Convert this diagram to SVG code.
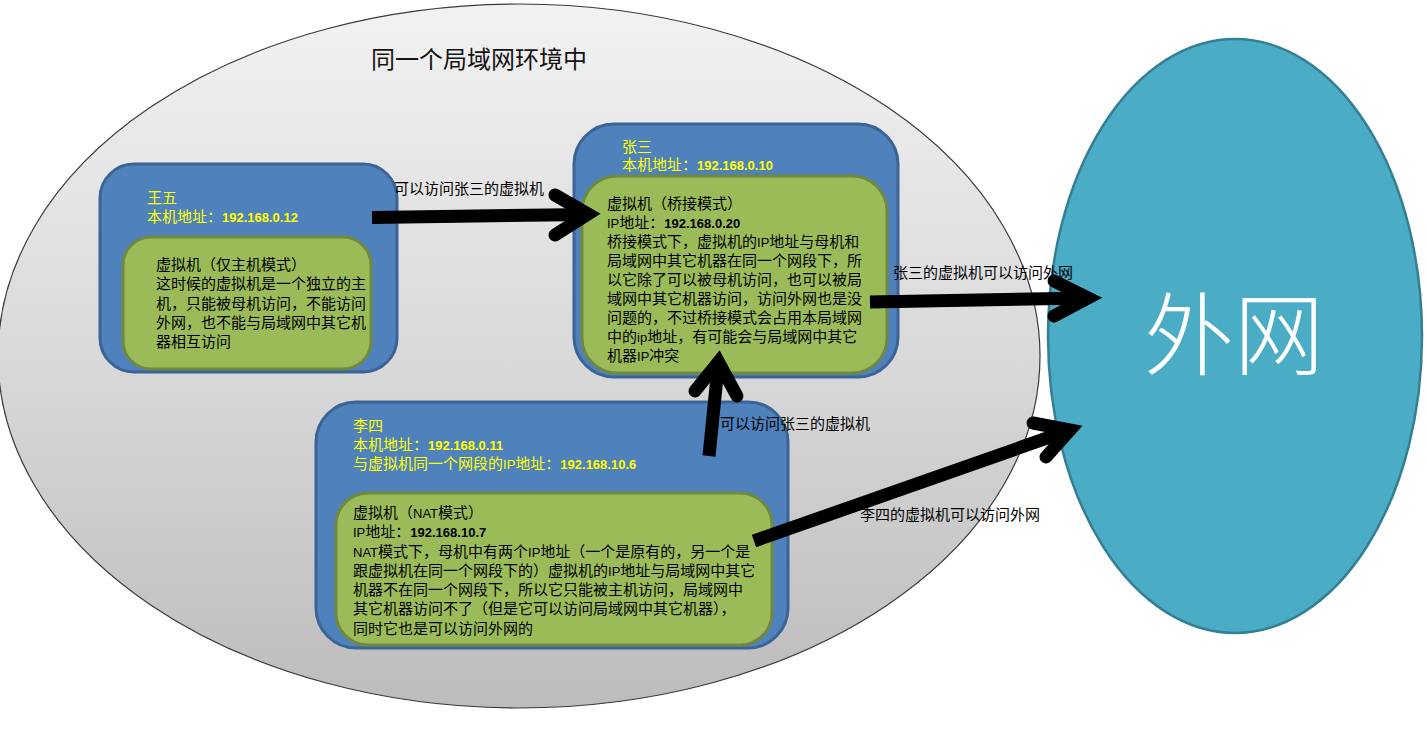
<svg xmlns="http://www.w3.org/2000/svg" width="1427" height="731" viewBox="0 0 1427 731">
  <defs>
    <linearGradient id="lanFill" x1="0" y1="0" x2="0" y2="1">
      <stop offset="0" stop-color="#f2f2f2"/>
      <stop offset="0.5" stop-color="#d9d9d9"/>
      <stop offset="1" stop-color="#bcbcbc"/>
    </linearGradient>
    <style>
      .txt { font-family: "Liberation Sans", "Noto Sans CJK SC", sans-serif; font-size: 15px; }
      .hdr { fill: #ffff00; }
      .body { fill: #000000; }
      .num { font-family: "Liberation Sans", sans-serif; font-weight: bold; font-size: 13px; }
      .lat { font-family: "Liberation Sans", sans-serif; font-size: 13px; }
      .outer { fill: #4f81bd; stroke: #3b6496; stroke-width: 3; }
      .inner { fill: #9bbb59; stroke: #71893f; stroke-width: 3; }
      .shaft { fill: none; stroke: #000000; stroke-width: 13; stroke-linecap: butt; }
      .head { fill: none; stroke: #000000; stroke-width: 13; stroke-linecap: round; stroke-linejoin: miter; stroke-miterlimit: 10; }
      .label { font-family: "Liberation Sans", "Noto Sans CJK SC", sans-serif; font-size: 15px; fill: #000000; }
    </style>
  </defs>

  <rect x="0" y="0" width="1427" height="731" fill="#ffffff"/>

  <!-- LAN boundary -->
  <g id="lan">
    <ellipse cx="519" cy="356" rx="521" ry="352" fill="url(#lanFill)" stroke="#3a3a3a" stroke-width="1.2"/>
    <text x="371" y="68" font-family="Liberation Sans, Noto Sans CJK SC, sans-serif" font-size="24" fill="#141414">同一个局域网环境中</text>
  </g>

  <!-- Internet -->
  <g id="internet">
    <ellipse cx="1235" cy="336" rx="187" ry="297" fill="#4bacc6" stroke="#357f94" stroke-width="2.5"/>
    <text x="1234" y="368" text-anchor="middle" font-family="Noto Sans CJK SC, sans-serif" font-weight="300" font-size="90" fill="#ffffff">外网</text>
  </g>

  <!-- Host 王五: host-only VM -->
  <g id="wangwu">
    <rect class="outer" x="100" y="164" width="297" height="208" rx="34" ry="34"/>
    <rect class="inner" x="123" y="237" width="248" height="132" rx="28" ry="28"/>
    <text class="txt hdr">
      <tspan x="147" y="202.5">王五</tspan>
      <tspan x="147" y="222">本机地址：<tspan class="num">192.168.0.12</tspan></tspan>
    </text>
    <text class="txt body">
      <tspan x="156" y="270">虚拟机（仅主机模式）</tspan>
      <tspan x="156" y="289.3">这时候的虚拟机是一个独立的主</tspan>
      <tspan x="156" y="308.6">机，只能被母机访问，不能访问</tspan>
      <tspan x="156" y="327.9">外网，也不能与局域网中其它机</tspan>
      <tspan x="156" y="347.2">器相互访问</tspan>
    </text>
  </g>

  <!-- Host 张三: bridged VM -->
  <g id="zhangsan">
    <rect class="outer" x="574" y="124" width="324" height="253" rx="40" ry="40"/>
    <rect class="inner" x="582" y="176" width="305" height="197" rx="35" ry="35"/>
    <text class="txt hdr">
      <tspan x="622" y="151.5">张三</tspan>
      <tspan x="622" y="169.5">本机地址：<tspan class="num">192.168.0.10</tspan></tspan>
    </text>
    <text class="txt body">
      <tspan x="607" y="208.5">虚拟机（桥接模式）</tspan>
      <tspan x="607" y="227.5"><tspan class="lat">IP</tspan>地址：<tspan class="num">192.168.0.20</tspan></tspan>
      <tspan x="607" y="246.5">桥接模式下，虚拟机的<tspan class="lat">IP</tspan>地址与母机和</tspan>
      <tspan x="607" y="265.5">局域网中其它机器在同一个网段下，所</tspan>
      <tspan x="607" y="284.5">以它除了可以被母机访问，也可以被局</tspan>
      <tspan x="607" y="303.5">域网中其它机器访问，访问外网也是没</tspan>
      <tspan x="607" y="322.5">问题的，不过桥接模式会占用本局域网</tspan>
      <tspan x="607" y="341.5">中的<tspan class="lat">ip</tspan>地址，有可能会与局域网中其它</tspan>
      <tspan x="607" y="360.5">机器<tspan class="lat">IP</tspan>冲突</tspan>
    </text>
  </g>

  <!-- Host 李四: NAT VM -->
  <g id="lisi">
    <rect class="outer" x="316" y="402" width="472" height="246" rx="40" ry="40"/>
    <rect class="inner" x="336" y="493" width="436" height="152" rx="32" ry="32"/>
    <text class="txt hdr">
      <tspan x="353" y="430.5">李四</tspan>
      <tspan x="353" y="449.5">本机地址：<tspan class="num">192.168.0.11</tspan></tspan>
      <tspan x="353" y="468.5">与虚拟机同一个网段的<tspan class="lat">IP</tspan>地址：<tspan class="num">192.168.10.6</tspan></tspan>
    </text>
    <text class="txt body">
      <tspan x="353" y="518">虚拟机（<tspan class="lat">NAT</tspan>模式）</tspan>
      <tspan x="353" y="537.2"><tspan class="lat">IP</tspan>地址：<tspan class="num">192.168.10.7</tspan></tspan>
      <tspan x="353" y="556.5"><tspan class="lat">NAT</tspan>模式下，母机中有两个<tspan class="lat">IP</tspan>地址（一个是原有的，另一个是</tspan>
      <tspan x="353" y="575.7">跟虚拟机在同一个网段下的）虚拟机的<tspan class="lat">IP</tspan>地址与局域网中其它</tspan>
      <tspan x="353" y="595">机器不在同一个网段下，所以它只能被主机访问，局域网中</tspan>
      <tspan x="353" y="614.2">其它机器访问不了（但是它可以访问局域网中其它机器），</tspan>
      <tspan x="353" y="633.5">同时它也是可以访问外网的</tspan>
    </text>
  </g>

  <!-- Connectors -->
  <g id="connectors">
    <!-- 王五 -> 张三 -->
    <path class="shaft" d="M372 217.5 L588 214.5"/>
    <path class="head" d="M555 195 L588 214 L555 235"/>
    <text class="label" x="394" y="193.5">可以访问张三的虚拟机</text>

    <!-- 张三 -> 外网 -->
    <text class="label" x="893" y="278">张三的虚拟机可以访问外网</text>
    <path class="shaft" d="M870 302 L1088 298"/>
    <path class="head" d="M1054 281 L1088 298 L1054 316"/>

    <!-- 李四 -> 张三 -->
    <path class="shaft" d="M709 456 L718.5 362"/>
    <path class="head" d="M695 391 L718.5 362 L737 396"/>
    <text class="label" x="720" y="429">可以访问张三的虚拟机</text>

    <!-- 李四 -> 外网 -->
    <path class="shaft" d="M754 541 L1070 430"/>
    <path class="head" d="M1033 423 L1070 430 L1046 457"/>
    <text class="label" x="860" y="520">李四的虚拟机可以访问外网</text>
  </g>
</svg>
